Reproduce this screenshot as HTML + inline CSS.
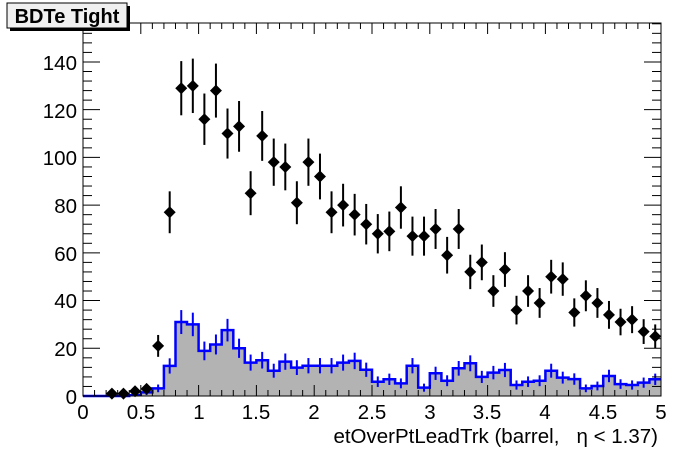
<!DOCTYPE html>
<html><head><meta charset="utf-8"><style>
body{margin:0;background:#fff;width:696px;height:472px;overflow:hidden}
svg{display:block;font-family:"Liberation Sans",Arial,sans-serif}
</style></head><body>
<svg id="s" width="696" height="472" viewBox="0 0 696 472">
<rect width="696" height="472" fill="#fff"/>
<g id="plot"></g>
<g font-size="20.5" fill="#000" text-anchor="end">
<text x="77" y="404">0</text>
<text x="77" y="356">20</text>
<text x="77" y="308">40</text>
<text x="77" y="261">60</text>
<text x="77" y="213">80</text>
<text x="77" y="165">100</text>
<text x="77" y="118">120</text>
<text x="77" y="70">140</text>
</g>
<g font-size="20.5" fill="#000" text-anchor="middle">
<text x="83" y="419">0</text>
<text x="141" y="419">0.5</text>
<text x="199" y="419">1</text>
<text x="256" y="419">1.5</text>
<text x="314" y="419">2</text>
<text x="372" y="419">2.5</text>
<text x="430" y="419">3</text>
<text x="487" y="419">3.5</text>
<text x="545" y="419">4</text>
<text x="603" y="419">4.5</text>
<text x="661" y="419">5</text>
</g>
<text x="658" y="443" font-size="20.5" text-anchor="end">etOverPtLeadTrk (barrel,&#160;&#160;&#160;η &lt; 1.37)</text>
<rect x="10" y="6" width="120" height="25" fill="#000"/>
<rect x="7" y="3" width="120" height="25" fill="#f0f0f0" stroke="#000" stroke-width="1"/>
<text x="67" y="23" font-size="20" font-weight="bold" text-anchor="middle">BDTe Tight</text>
</svg>
<script>
const X0=83,X1=661,Y0=396,ys=2.386,bw=(X1-X0)/50;
const X=v=>X0+v*(X1-X0)/5, Y=v=>Y0-v*ys;
const blue=[0,0,0,0,0.3,1.5,3.2,12.6,31,30,18.9,21.6,27.6,20,14,15,10.6,14.4,11.9,12.7,12.7,12.7,14,14.7,11,6,7,5.3,12.7,3.5,9.5,6.4,11.6,13.7,8,9.8,10.9,4.6,6,6.4,10.6,7.7,7.1,3.2,4.2,8.4,5,4.6,5.6,7];
const data=[1,1,2,3,21,77,129,130,116,128,110,113,85,109,98,96,81,98,92,77,80,76,72,68,69,79,67,67,70,59,70,52,56,44,53,36,44,39,50,49,35,42,39,34,31,32,27,25];
let h='';
let p='M'+X0+','+Y0;
blue.forEach((v,i)=>{p+=' L'+(X0+i*bw).toFixed(1)+','+Y(v).toFixed(1)+' L'+(X0+(i+1)*bw).toFixed(1)+','+Y(v).toFixed(1);});
p+=' L'+X1+','+Y0+' Z';
h+=`<path d="${p}" fill="#b3b3b3" stroke="none"/>`;
let l='M'+X0+','+Y(blue[0]);
blue.forEach((v,i)=>{l+=' L'+(X0+i*bw).toFixed(1)+','+Y(v).toFixed(1)+' L'+(X0+(i+1)*bw).toFixed(1)+','+Y(v).toFixed(1);});
h+=`<path d="${l}" fill="none" stroke="#0000ff" stroke-width="2.5"/>`;
blue.forEach((v,i)=>{if(v<1.2)return;const e=0.9*Math.sqrt(v),cx=X0+(i+0.5)*bw;h+=`<line x1="${cx}" x2="${cx}" y1="${Y(v+e)}" y2="${Y(Math.max(0,v-e))}" stroke="#0000ff" stroke-width="2"/>`;});
data.forEach((v,k)=>{const i=k+2,cx=X0+(i+0.5)*bw,cy=Y(v),e=Math.sqrt(v);
h+=`<line x1="${cx}" x2="${cx}" y1="${Y(v+e)}" y2="${Y(Math.max(0,v-e))}" stroke="#000" stroke-width="2"/>`;
h+=`<path d="M${cx-6},${cy} L${cx-2},${cy-4} L${cx},${cy-6} L${cx+2},${cy-4} L${cx+6},${cy} L${cx+2},${cy+4} L${cx},${cy+6} L${cx-2},${cy+4}Z" fill="#000"/>`;});
h+=`<rect x="${X0}" y="23" width="${X1-X0}" height="${Y0-23}" fill="none" stroke="#000" stroke-width="1"/>`;
for(let v=0;v<=156;v+=4){const maj=v%20==0,len=maj?17:9,y=Y(v);h+=`<line x1="${X0}" x2="${X0+len}" y1="${y}" y2="${y}" stroke="#000"/><line x1="${X1}" x2="${X1-len}" y1="${y}" y2="${y}" stroke="#000"/>`;}
for(let i=0;i<=50;i++){const x=X0+i*bw,len=i%5==0?11:6;h+=`<line x1="${x}" x2="${x}" y1="${Y0}" y2="${Y0-len}" stroke="#000"/><line x1="${x}" x2="${x}" y1="23" y2="${23+len}" stroke="#000"/>`;}
document.getElementById('plot').innerHTML=h;
</script>
</body></html>
